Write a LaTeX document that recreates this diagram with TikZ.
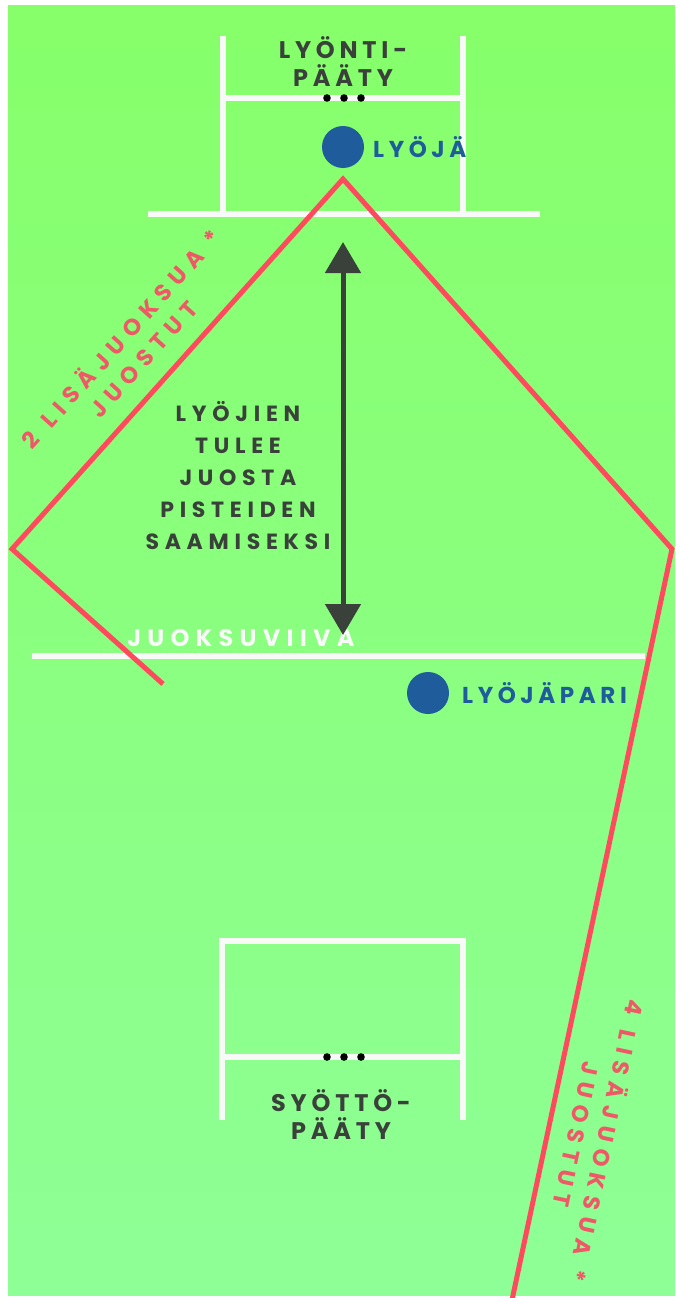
\documentclass[tikz,border=0pt]{standalone}
\usepackage{fontspec}
\newfontfamily\fieldfont[LetterSpace=20]{Poppins}
\newfontfamily\widefont[LetterSpace=26]{Poppins}
\newfontfamily\runfont[LetterSpace=31]{Poppins}
\usetikzlibrary{arrows.meta}
\definecolor{fieldtop}{RGB}{134,255,106}
\definecolor{fieldbot}{RGB}{142,255,150}
\definecolor{runred}{RGB}{255,74,94}
\definecolor{runtext}{RGB}{240,88,104}
\definecolor{playerblue}{RGB}{30,92,155}
\definecolor{inkgray}{RGB}{58,64,58}
\definecolor{chalkwhite}{RGB}{248,250,248}

\begin{document}
\begin{tikzpicture}[x=1pt,y=-1pt,
  chalk/.style={draw=chalkwhite, line width=5.5pt},
  runline/.style={draw=runred, line width=5pt},
  boxtext/.style={font=\fieldfont\bfseries\fontsize{24}{28}\selectfont, text=inkgray, align=center, inner sep=0pt},
  midtext/.style={font=\widefont\bfseries\fontsize{22}{32}\selectfont, text=inkgray, align=center, inner sep=0pt},
  playertext/.style={font=\fieldfont\bfseries\fontsize{23}{28}\selectfont, text=playerblue, anchor=west, inner sep=0pt},
  runtextstyle/.style={font=\runfont\bfseries\fontsize{23}{30}\selectfont, text=runtext, align=center, inner sep=0pt},
  player/.style={circle, fill=playerblue, minimum size=42pt, inner sep=0pt}]
\useasboundingbox (0,0) rectangle (675,1298);
\fill[white] (0,0) rectangle (675,1298);
\fill[top color=fieldtop, bottom color=fieldbot] (8,6) rectangle (675,1295);

% lyontipaaty
\draw[chalk] (223,36) -- (223,214);
\draw[chalk] (463,36) -- (463,214);
\draw[chalk] (223,98) -- (463,98);
\draw[chalk] (148,214) -- (540,214);
\foreach \x in {327,344,361} \fill (\x,98) circle (3.8);
\node (hitend) at (343,62) [boxtext] {LYÖNTI-\\PÄÄTY};

% syottopaaty
\draw[chalk] (219,941) -- (466,941);
\draw[chalk] (222,941) -- (222,1120);
\draw[chalk] (463,941) -- (463,1120);
\draw[chalk] (222,1057) -- (463,1057);
\foreach \x in {327,344,361} \fill (\x,1057) circle (3.8);
\node (pitchend) at (341,1115) [boxtext] {SYÖTTÖ-\\PÄÄTY};

% juoksuviiva
\draw[chalk] (32,656) -- (645,656);
\node (runmark) at (241,638) [boxtext, text=chalkwhite, font=\widefont\bfseries\fontsize{24}{28}\selectfont] {JUOKSUVIIVA};

% pelaajat
\node (batter) at (343,147) [player] {};
\node (battertext) at (373,147) [playertext] {LYÖJÄ};
\node (partner) at (428,693) [player] {};
\node (partnertext) at (462,693) [playertext] {LYÖJÄPARI};

% juoksureitit
\coordinate (apex) at (343,179);
\coordinate (leftcorner) at (12,549);
\coordinate (leftend) at (163,684);
\coordinate (rightcorner) at (672,549);
\coordinate (rightend) at (512,1300);
\draw[runline] (leftend) -- (leftcorner) -- (apex) -- (rightcorner) -- (rightend);
\node (twoextra) at (131,348) [runtextstyle, rotate=48] {2\hspace{15pt}LISÄJUOKSUA\hspace{13pt}*\\JUOSTUT};
\node (fourextra) at (593,1138) [runtextstyle, rotate=-102] {4\hspace{15pt}LISÄJUOKSUA\hspace{13pt}*\\JUOSTUT};

% nuoli
\coordinate (arrowtop) at (343,242);
\coordinate (arrowbot) at (343,635);
\draw[draw=inkgray, line width=5pt, {Triangle[length=31pt,width=35pt]}-{Triangle[length=31pt,width=35pt]}] (arrowtop) -- (arrowbot);
\node (reason) at (238,476) [midtext] {LYÖJIEN\\TULEE\\JUOSTA\\PISTEIDEN\\SAAMISEKSI};
\end{tikzpicture}
\end{document}
